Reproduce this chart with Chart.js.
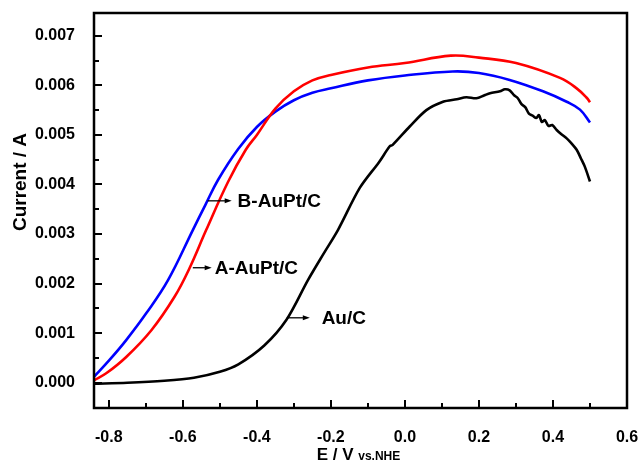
<!DOCTYPE html>
<html>
<head>
<meta charset="utf-8">
<script src="https://cdn.jsdelivr.net/npm/chart.js@4"></script>
<style>
  html, body { margin: 0; padding: 0; background: #fff; }
  #wrap { width: 640px; height: 464px; }
</style>
</head>
<body>
<div id="wrap"><canvas id="chart"></canvas></div>
<script>
// A-AuPt/C (red)
const redX = [-0.84, -0.807, -0.753, -0.685, -0.622, -0.582, -0.537, -0.478, -0.43, -0.4, -0.35, -0.3, -0.25, -0.2, -0.1, 0.0, 0.124, 0.2, 0.3, 0.419, 0.464, 0.491, 0.5];
const redY = [0.00005, 0.00019, 0.00052, 0.00106, 0.00174, 0.00231, 0.00308, 0.00405, 0.0047, 0.005, 0.00553, 0.00588, 0.0061, 0.00621, 0.00636, 0.00645, 0.0066, 0.00656, 0.00645, 0.00615, 0.00594, 0.00575, 0.00566];

// B-AuPt/C (blue)
const blueX = [-0.84, -0.798, -0.753, -0.699, -0.64, -0.573, -0.539, -0.505, -0.45, -0.4, -0.35, -0.3, -0.25, -0.2, -0.1, 0.0, 0.129, 0.2, 0.283, 0.373, 0.437, 0.473, 0.5];
const blueY = [0.00012, 0.00046, 0.00086, 0.0014, 0.00207, 0.00308, 0.00359, 0.00409, 0.00472, 0.00516, 0.00547, 0.0057, 0.00585, 0.00594, 0.0061, 0.0062, 0.00628, 0.00625, 0.00611, 0.00588, 0.00567, 0.00551, 0.00525];

// Au/C (black)
const blackX = [-0.84, -0.75, -0.65, -0.57, -0.5, -0.45, -0.38, -0.32, -0.262, -0.22, -0.181, -0.122, -0.07, -0.041, -0.033, 0.013, 0.058, 0.103, 0.14, 0.166, 0.193, 0.215, 0.23, 0.257, 0.27, 0.283, 0.295, 0.305, 0.315, 0.325, 0.335, 0.345, 0.355, 0.362, 0.37, 0.378, 0.388, 0.398, 0.41, 0.422, 0.437, 0.45, 0.464, 0.476, 0.486, 0.5];
const blackY = [-0.00002, 0.0, 0.00004, 0.0001, 0.00022, 0.00037, 0.00075, 0.00127, 0.00207, 0.0026, 0.00308, 0.00393, 0.00445, 0.00477, 0.0048, 0.00517, 0.0055, 0.00567, 0.00572, 0.00576, 0.00574, 0.0058, 0.00584, 0.00588, 0.00592, 0.0059, 0.0058, 0.00574, 0.00562, 0.00556, 0.00543, 0.00539, 0.00534, 0.0054, 0.00526, 0.0053, 0.00518, 0.0052, 0.0051, 0.00502, 0.00493, 0.00483, 0.0047, 0.00452, 0.00436, 0.00406];

const xTicks = [-0.8, -0.6, -0.4, -0.2, 0.0, 0.2, 0.4, 0.6];
const xMinor = [-0.7, -0.5, -0.3, -0.1, 0.1, 0.3, 0.5];
const yTicks = [0.000, 0.001, 0.002, 0.003, 0.004, 0.005, 0.006, 0.007];
const yMinor = [0.0005, 0.0015, 0.0025, 0.0035, 0.0045, 0.0055, 0.0065];

// label, arrow start x, arrow end x, y, text start x (data units)
const labels = [
  { text: "B-AuPt/C", x0: -0.533, x1: -0.468, y: 0.00367, tx: -0.452 },
  { text: "A-AuPt/C", x0: -0.573, x1: -0.522, y: 0.00232, tx: -0.514 },
  { text: "Au/C", x0: -0.319, x1: -0.257, y: 0.00131, tx: -0.225 }
];

const FONT = "'Liberation Sans', Arial, sans-serif";

function pts(xs, ys) {
  return xs.map((x, i) => ({ x, y: ys[i] }));
}

const framePlugin = {
  id: "frame",
  afterDraw(chart) {
    const { ctx, chartArea: a, scales } = chart;
    const xs = scales.x, ys = scales.y;
    ctx.save();
    ctx.strokeStyle = "#000";
    ctx.lineWidth = 2.5;
    ctx.strokeRect(a.left, a.top, a.right - a.left, a.bottom - a.top);

    ctx.lineWidth = 2;
    ctx.beginPath();
    xTicks.forEach(v => {
      const px = Math.round(xs.getPixelForValue(v));
      ctx.moveTo(px, a.bottom); ctx.lineTo(px, a.bottom - 8);
    });
    xMinor.forEach(v => {
      const px = Math.round(xs.getPixelForValue(v));
      ctx.moveTo(px, a.bottom); ctx.lineTo(px, a.bottom - 5);
    });
    yTicks.forEach(v => {
      const py = Math.round(ys.getPixelForValue(v));
      ctx.moveTo(a.left, py); ctx.lineTo(a.left + 8, py);
    });
    yMinor.forEach(v => {
      const py = Math.round(ys.getPixelForValue(v));
      ctx.moveTo(a.left, py); ctx.lineTo(a.left + 5, py);
    });
    ctx.stroke();

    // curve labels with arrows
    ctx.fillStyle = "#000";
    ctx.lineWidth = 1.3;
    ctx.font = "bold 19px " + FONT;
    ctx.textBaseline = "middle";
    labels.forEach(l => {
      const x0 = xs.getPixelForValue(l.x0), x1 = xs.getPixelForValue(l.x1);
      const py = ys.getPixelForValue(l.y);
      ctx.beginPath();
      ctx.moveTo(x0, py); ctx.lineTo(x1 - 5, py);
      ctx.stroke();
      ctx.beginPath();
      ctx.moveTo(x1, py); ctx.lineTo(x1 - 7, py - 2.5); ctx.lineTo(x1 - 7, py + 2.5);
      ctx.closePath();
      ctx.fill();
      ctx.textAlign = "left";
      ctx.fillText(l.text, xs.getPixelForValue(l.tx), py + 1);
    });

    // axis titles
    ctx.textBaseline = "alphabetic";
    ctx.textAlign = "left";
    const main = "E / V ";
    ctx.font = "bold 17px " + FONT;
    const w1 = ctx.measureText(main).width;
    ctx.font = "bold 12px " + FONT;
    const w2 = ctx.measureText("vs.NHE").width;
    const cx = (a.left + a.right) / 2;
    const sx = cx - (w1 + w2) / 2 - 2;
    ctx.font = "bold 17px " + FONT;
    ctx.fillText(main, sx, 460);
    ctx.font = "bold 12px " + FONT;
    ctx.fillText("vs.NHE", sx + w1, 460);

    ctx.translate(21, 182);
    ctx.rotate(-Math.PI / 2);
    ctx.font = "bold 19px " + FONT;
    ctx.textAlign = "center";
    ctx.textBaseline = "middle";
    ctx.fillText("Current / A", 0, 0);
    ctx.restore();
  }
};

const line = (label, xs, ys, color, tension) => ({
  label,
  data: pts(xs, ys),
  showLine: true,
  borderColor: color,
  backgroundColor: color,
  borderWidth: 2.6,
  pointRadius: 0,
  fill: false,
  tension
});

new Chart(document.getElementById("chart"), {
  type: "scatter",
  data: {
    datasets: [
      line("A-AuPt/C", redX, redY, "#ff0000", 0.4),
      line("B-AuPt/C", blueX, blueY, "#0000ff", 0.4),
      line("Au/C", blackX, blackY, "#000000", 0.3)
    ]
  },
  options: {
    responsive: true,
    maintainAspectRatio: false,
    animation: false,
    layout: { padding: { top: 13, right: 13, left: 0, bottom: 0 } },
    plugins: { legend: { display: false }, tooltip: { enabled: false } },
    scales: {
      x: {
        type: "linear",
        min: -0.84,
        max: 0.6,
        grid: { display: false },
        border: { display: false },
        afterBuildTicks: s => { s.ticks = xTicks.map(v => ({ value: v })); },
        afterFit: s => { s.height = 56; s.paddingLeft = 0; s.paddingRight = 0; },
        ticks: {
          padding: 12,
          color: "#000",
          font: { family: FONT, size: 16, weight: "bold" },
          callback: v => v.toFixed(1)
        }
      },
      y: {
        type: "linear",
        min: -0.00051,
        max: 0.00746,
        grid: { display: false },
        border: { display: false },
        afterBuildTicks: s => { s.ticks = yTicks.map(v => ({ value: v })); },
        afterFit: s => { s.width = 94; s.paddingTop = 0; s.paddingBottom = 0; },
        ticks: {
          padding: 11,
          color: "#000",
          font: { family: FONT, size: 16, weight: "bold" },
          callback: v => v.toFixed(3)
        }
      }
    }
  },
  plugins: [framePlugin]
});
</script>
</body>
</html>
